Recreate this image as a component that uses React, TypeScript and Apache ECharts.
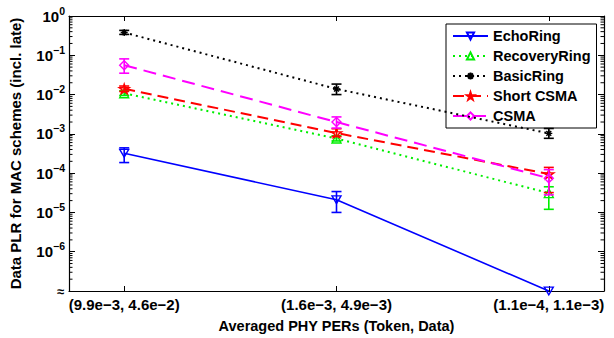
import React, { useEffect, useRef } from "react";
import * as echarts from "echarts";

// ---------- data ----------
const X_POS = [1, 2, 3];
const X_LABELS = ["(9.9e\u22123, 4.6e\u22122)", "(1.6e\u22123, 4.9e\u22123)", "(1.1e\u22124, 1.1e\u22123)"];
const SERIES_NAMES = ["EchoRing", "RecoveryRing", "BasicRing", "Short CSMA", "CSMA"];

const ECHO = [3.2e-4, 2.1e-5, 1e-7];
const ECHO_LO = [1.86e-4, 1.0e-5, null];
const ECHO_HI = [4.4e-4, 3.4e-5, null];

const RECOVERY = [1.08e-2, 7.6e-4, 3.1e-5];
const RECOVERY_LO = [0.95e-2, 6.6e-4, 1.2e-5];
const RECOVERY_HI = [1.25e-2, 8.9e-4, 4.5e-5];

const BASIC = [0.38, 1.39e-2, 1.03e-3];
const BASIC_LO = [0.34, 1.0e-2, 7.7e-4];
const BASIC_HI = [0.43, 1.85e-2, 1.37e-3];

const SHORT_CSMA = [1.4e-2, 1.05e-3, 9.5e-5];
const SHORT_CSMA_LO = [1.2e-2, 8.5e-4, 3.2e-5];
const SHORT_CSMA_HI = [1.65e-2, 1.35e-3, 1.4e-4];

const CSMA = [5.6e-2, 2.0e-3, 7.4e-5];
const CSMA_LO = [3.5e-2, 1.4e-3, 2.8e-5];
const CSMA_HI = [8.1e-2, 2.7e-3, 1.23e-4];

const Y_MIN = 1e-7;
const Y_MAX = 1;
const X_MIN = 0.74;
const X_MAX = 3.26;
const MINOR_MULT = [2, 3, 4, 5, 6, 7, 8, 9];
const MINOR_DECADES = [1e-7, 1e-6, 1e-5, 1e-4, 1e-3, 1e-2, 1e-1];

const FONT = "'Liberation Sans', Arial, sans-serif";

const STAR = "path://M10,0 L12.245,6.910 L19.511,6.910 L13.633,11.180 L15.878,18.090 L10,13.82 L4.122,18.090 L6.367,11.180 L0.489,6.910 L7.755,6.910 Z";
const DOWN_TRI = "path://M0,0 L10,0 L5,8.66 Z";
const ASTER = "path://M5,0L5,10M0,5L10,5M1.5,1.5L8.5,8.5M1.5,8.5L8.5,1.5";

const COLORS = ["#0000ff", "#00ee00", "#000000", "#ff0000", "#ff00ff"];

export default function App() {
  const ref = useRef<HTMLDivElement>(null);

  useEffect(() => {
    if (!ref.current) return;
    const chart = echarts.init(ref.current, undefined, { renderer: "svg" });

    const values = [ECHO, RECOVERY, BASIC, SHORT_CSMA, CSMA];
    const los = [ECHO_LO, RECOVERY_LO, BASIC_LO, SHORT_CSMA_LO, CSMA_LO];
    const his = [ECHO_HI, RECOVERY_HI, BASIC_HI, SHORT_CSMA_HI, CSMA_HI];
    const symbols = [DOWN_TRI, "triangle", ASTER, STAR, "diamond"];
    const symbolSizes = [9, 9, 7, 10, 9];
    const lineTypes: any[] = ["solid", [2, 4], [2, 4], [11, 6], [13, 7]];

    const minorValues: number[] = [];
    MINOR_DECADES.forEach((d) => MINOR_MULT.forEach((m) => minorValues.push(m * d)));

    const series: any[] = [];
    SERIES_NAMES.forEach((name, i) => {
      const color = COLORS[i];
      series.push({
        name: name + " error",
        type: "custom",
        z: 3 + i,
        silent: true,
        clip: false,
        data: X_POS.map((x, j) => [x, los[i][j], his[i][j]]).filter((r) => r[1] != null),
        encode: { x: 0, y: [1, 2] },
        renderItem: (params: any, api: any) => {
          const x = api.value(0);
          const pLo = api.coord([x, api.value(1)]);
          const pHi = api.coord([x, api.value(2)]);
          const w = 5;
          const st = { stroke: color, lineWidth: 1.6 };
          return {
            type: "group",
            children: [
              { type: "line", shape: { x1: pLo[0], y1: pLo[1], x2: pHi[0], y2: pHi[1] }, style: st },
              { type: "line", shape: { x1: pLo[0] - w, y1: pLo[1], x2: pLo[0] + w, y2: pLo[1] }, style: st },
              { type: "line", shape: { x1: pHi[0] - w, y1: pHi[1], x2: pHi[0] + w, y2: pHi[1] }, style: st },
            ],
          };
        },
      });
      series.push({
        name,
        type: "line",
        z: 3 + i,
        data: X_POS.map((x, j) => [x, values[i][j]]),
        symbol: symbols[i],
        symbolSize: symbolSizes[i],
        symbolKeepAspect: true,
        showAllSymbol: true,
        clip: false,
        lineStyle: { color, width: i === 0 ? 1.6 : 2, type: lineTypes[i] },
        itemStyle: { color: "transparent", borderColor: color, borderWidth: 1.4 },
      });
    });

    // minor ticks of the log axis, drawn in one item on both sides of the frame
    series.push({
      name: "minor ticks",
      type: "custom",
      silent: true,
      z: 10,
      clip: false,
      data: [[X_MIN, Y_MIN]],
      encode: { x: 0, y: 1 },
      renderItem: (params: any, api: any) => {
        const st = { stroke: "#000", lineWidth: 1 };
        const children: any[] = [];
        minorValues.forEach((v) => {
          const pl = api.coord([X_MIN, v]);
          const pr = api.coord([X_MAX, v]);
          children.push({ type: "line", shape: { x1: pl[0], y1: pl[1], x2: pl[0] + 3.5, y2: pl[1] }, style: st });
          children.push({ type: "line", shape: { x1: pr[0], y1: pr[1], x2: pr[0] - 3.5, y2: pr[1] }, style: st });
        });
        return { type: "group", children };
      },
    });

    const yLabel = (v: number) => {
      const e = Math.round(Math.log10(v));
      if (e <= -7) return "";
      return `{b|10}{e|${e === 0 ? "0" : "\u2212" + -e}}`;
    };

    const yBase = {
      type: "log",
      logBase: 10,
      min: Y_MIN,
      max: Y_MAX,
      splitNumber: 7,
      splitLine: { show: false },
      axisLine: { show: true, lineStyle: { color: "#000", width: 1.2 } },
      axisTick: { show: true, inside: true, length: 6, lineStyle: { color: "#000", width: 1 } },
    };
    const xBase = {
      type: "value",
      min: X_MIN,
      max: X_MAX,
      splitLine: { show: false },
      axisLine: { show: true, onZero: false, lineStyle: { color: "#000", width: 1.2 } },
      axisTick: { show: true, inside: true, length: 5, customValues: X_POS, lineStyle: { color: "#000" } },
    };

    chart.setOption({
      animation: false,
      backgroundColor: "#fff",
      grid: { left: 63, right: 10, top: 16, bottom: 39, containLabel: false },
      legend: {
        data: SERIES_NAMES,
        orient: "vertical",
        left: 446,
        top: 24,
        padding: [4, 6, 4, 6],
        itemGap: 4,
        itemWidth: 35,
        itemHeight: 9,
        backgroundColor: "#fff",
        borderColor: "#000",
        borderWidth: 1,
        textStyle: { fontFamily: FONT, fontWeight: "bold", fontSize: 14.5, color: "#000", lineHeight: 16 },
      },
      xAxis: [
        {
          ...xBase,
          position: "bottom",
          name: "Averaged PHY PERs (Token, Data)",
          nameLocation: "middle",
          nameGap: 27,
          nameTextStyle: { fontFamily: FONT, fontWeight: "bold", fontSize: 14.5, color: "#000" },
          axisLabel: {
            customValues: X_POS,
            margin: 6,
            fontFamily: FONT,
            fontWeight: "bold",
            fontSize: 15,
            color: "#000",
            formatter: (v: number) => X_LABELS[X_POS.indexOf(Math.round(v))] ?? "",
          },
        },
        { ...xBase, position: "top", axisLabel: { show: false } },
      ],
      yAxis: [
        {
          ...yBase,
          position: "left",
          name: "Data PLR for MAC schemes (incl. late)",
          nameLocation: "middle",
          nameGap: 46,
          nameTextStyle: { fontFamily: FONT, fontWeight: "bold", fontSize: 15, color: "#000" },
          axisLabel: {
            margin: 4,
            color: "#000",
            formatter: yLabel,
            rich: {
              b: { fontFamily: FONT, fontWeight: "bold", fontSize: 15, color: "#000" },
              e: { fontFamily: FONT, fontWeight: "bold", fontSize: 10.5, color: "#000", padding: [0, 0, 11, 0] },
            },
          },
        },
        { ...yBase, position: "right", axisLabel: { show: false } },
      ],
      graphic: [
        {
          type: "text",
          left: 57,
          top: 285,
          style: { text: "\u2248", font: `bold 13px ${FONT}`, fill: "#000" },
        },
      ],
      series,
    });

    return () => chart.dispose();
  }, []);

  return (
    <div
      ref={ref}
      style={{ position: "fixed", left: 0, top: 0, width: 614, height: 338, background: "#fff" }}
    />
  );
}
